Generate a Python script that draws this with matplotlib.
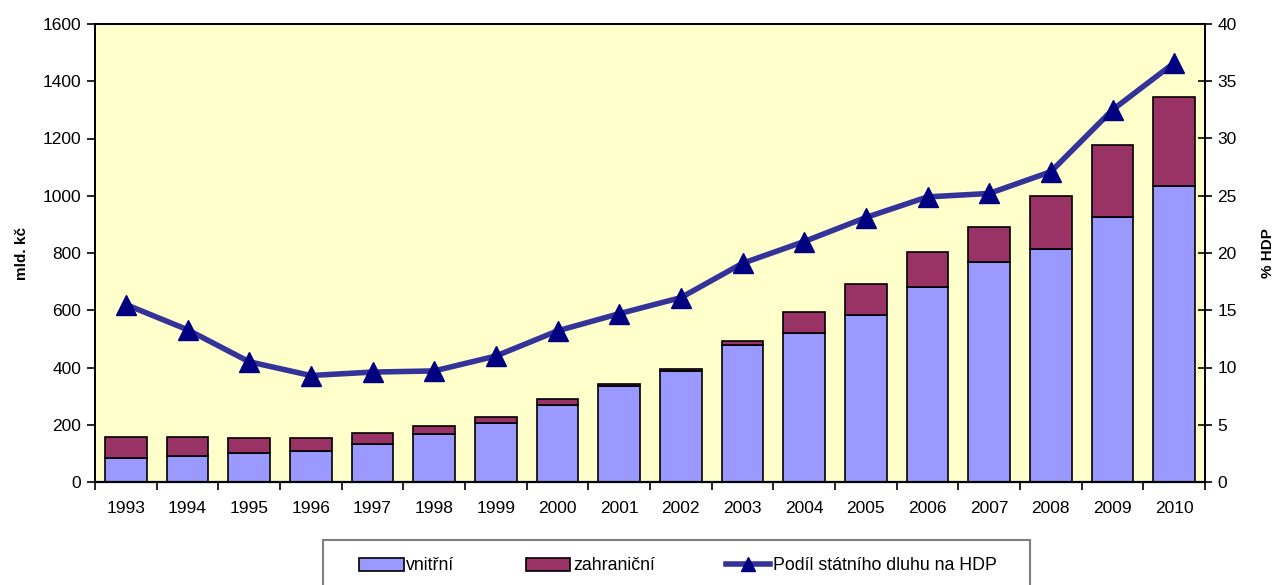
import matplotlib
matplotlib.use("Agg")
import matplotlib.pyplot as plt
import numpy as np
from matplotlib.patches import Patch, Rectangle
from matplotlib.lines import Line2D

plt.rcParams['font.family'] = ['Liberation Sans', 'DejaVu Sans']

years = ["1993", "1994", "1995", "1996", "1997", "1998", "1999", "2000", "2001",
         "2002", "2003", "2004", "2005", "2006", "2007", "2008", "2009", "2010"]
vnitrni = [85, 90, 100, 109, 134, 169, 206, 269, 334, 387, 478, 522, 582, 681, 769, 814, 927, 1035]
celkem = [158, 158, 155, 155, 172, 194, 228, 289, 343, 395, 491, 593, 692, 802, 892, 999, 1178, 1344]
zahranicni = [c - v for c, v in zip(celkem, vnitrni)]
podil_hdp = [15.5, 13.3, 10.5, 9.3, 9.6, 9.7, 11.0, 13.2, 14.7, 16.1, 19.1, 21.0, 23.1, 24.9, 25.2, 27.1, 32.5, 36.6]

W, H = 1278, 585
fig = plt.figure(figsize=(W/100, H/100), dpi=100)
ax = fig.add_axes([95/W, 1-482/H, 1110/W, 458/H])
ax.set_facecolor('#FFFFCC')

x = np.arange(len(years))
w = 0.68
ax.bar(x, vnitrni, w, color='#9999FF', edgecolor='black', linewidth=1.2, zorder=2)
ax.bar(x, zahranicni, w, bottom=vnitrni, color='#993366', edgecolor='black', linewidth=1.2, zorder=2)
ax.set_xlim(-0.5, len(years) - 0.5)
ax.set_ylim(0, 1600)
ax.set_yticks(np.arange(0, 1601, 200))
ax.set_xticks(np.arange(-0.5, len(years), 1.0))
ax.set_xticklabels([])
ax.set_xticks(x, minor=True)
ax.set_xticklabels(years, minor=True)
ax.tick_params(axis='x', which='major', direction='out', length=6, width=1.2)
ax.tick_params(axis='x', which='minor', length=0, pad=14, labelsize=12.5)
ax.tick_params(axis='y', direction='out', length=6, width=1.2, labelsize=12.5, pad=4)
ax.set_ylabel('mld. kč', fontsize=11, fontweight='bold', labelpad=10)
for s in ax.spines.values():
    s.set_linewidth(1.3)
ax.spines['bottom'].set_linewidth(1.6)

ax2 = ax.twinx()
ax2.plot(x, podil_hdp, color='#333399', linewidth=4, marker='^', markersize=14,
         markerfacecolor='#000080', markeredgecolor='#000080', zorder=3)
ax2.set_ylim(0, 40)
ax2.set_yticks(np.arange(0, 41, 5))
ax2.tick_params(axis='y', direction='inout', length=10, width=1.2, labelsize=12.5, pad=4)
ax2.set_ylabel('% HDP', fontsize=11, fontweight='bold', labelpad=17)
for s in ax2.spines.values():
    s.set_linewidth(1.3)

# legend frame
fig.patches.append(Rectangle((323/W, -0.05), (1030-323)/W, 0.05 + 1-540/H,
                             transform=fig.transFigure, facecolor='white',
                             edgecolor='#808080', linewidth=1.5, zorder=0))

handles = [
    Patch(facecolor='#9999FF', edgecolor='black', linewidth=1.2, label='vnitřní'),
    Patch(facecolor='#993366', edgecolor='black', linewidth=1.2, label='zahraniční'),
    Line2D([0], [0], color='#333399', linewidth=4, marker='^', markersize=10,
           markerfacecolor='#000080', markeredgecolor='#000080', label='Podíl státního dluhu na HDP'),
]
leg = fig.legend(handles=handles, loc='center',
                 bbox_to_anchor=(678/W, 1-566/H),
                 ncol=3, fontsize=12.8, frameon=False,
                 handlelength=2.5, handleheight=0.7, handletextpad=0.15, borderpad=0.0,
                 columnspacing=4.0)

fig.savefig('out.png', dpi=100)
